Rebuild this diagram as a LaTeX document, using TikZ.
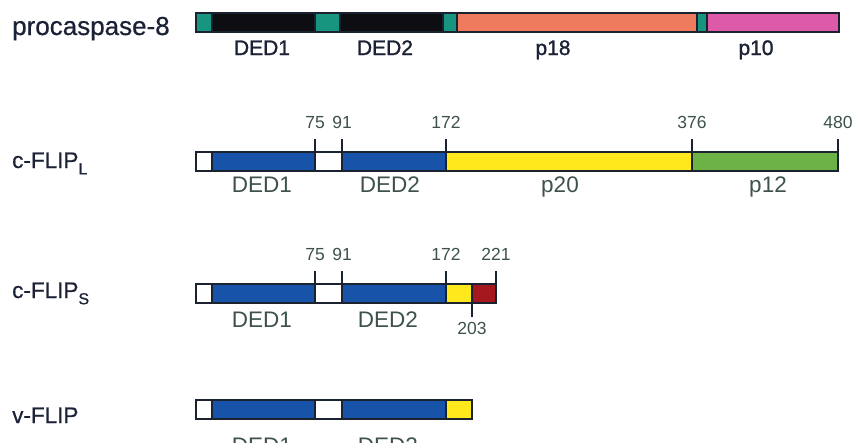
\documentclass[tikz,border=0pt]{standalone}
\usepackage{fontspec}
\setmainfont{Liberation Sans}
\newfontfamily\namefont[FakeBold=0.6]{Liberation Sans}
\newfontfamily\caspfont[FakeBold=1.3]{Liberation Sans}
\definecolor{edge}{HTML}{1A2230}
\definecolor{navy}{HTML}{1C2236}
\definecolor{greytxt}{HTML}{3E524C}
\definecolor{tealc}{HTML}{17957F}
\definecolor{blackc}{HTML}{0D0D12}
\definecolor{orangec}{HTML}{EE7B5E}
\definecolor{pinkc}{HTML}{DD5AA8}
\definecolor{bluec}{HTML}{1753A8}
\definecolor{yellowc}{HTML}{FFE81C}
\definecolor{greenc}{HTML}{6DB245}
\definecolor{redc}{HTML}{A5181E}
\newcommand\protseg[5]{\filldraw[fill=#1, segline] (#2,#3) rectangle (#4,#5);}
\begin{document}
\begin{tikzpicture}[x=1pt,y=-1pt,
  segline/.style={draw=edge, line width=1.3pt},
  tickline/.style={draw=edge, line width=1.3pt},
  rowname/.style={anchor=base west, inner sep=0pt, text=navy, font=\namefont\fontsize{22.5}{22.5}\selectfont},
  casplabel/.style={anchor=base, inner sep=0pt, text=navy, font=\caspfont\fontsize{21}{21}\selectfont},
  domlabel/.style={anchor=base, inner sep=0pt, text=greytxt, font=\fontsize{22.5}{22.5}\selectfont},
  poslabel/.style={anchor=base, inner sep=0pt, text=greytxt, font=\fontsize{17.5}{17.5}\selectfont}]
\clip (0,0) rectangle (853,442);
\fill[white] (0,0) rectangle (853,442);

% procaspase-8
\node[rowname, font=\namefont\fontsize{26}{26}\selectfont] (n8) at (12,35) {procaspase-8};
\protseg{tealc}{196}{13}{212}{32}
\protseg{blackc}{212}{13}{315}{32}
\protseg{tealc}{315}{13}{340}{32}
\protseg{blackc}{340}{13}{443}{32}
\protseg{tealc}{443}{13}{457}{32}
\protseg{orangec}{457}{13}{697}{32}
\protseg{tealc}{697}{13}{707}{32}
\protseg{pinkc}{707}{13}{839}{32}
\node[casplabel] (c1) at (262,55) {DED1};
\node[casplabel] (c2) at (385,55) {DED2};
\node[casplabel] (c3) at (553,55) {p18};
\node[casplabel] (c4) at (756,55) {p10};

% c-FLIP long
\node[rowname] (nL) at (12,168) {c-FLIP\raisebox{-0.28em}{\fontsize{16}{16}\selectfont L}};
\protseg{white}{196}{152}{212}{171}
\protseg{bluec}{212}{152}{315}{171}
\protseg{white}{315}{152}{342}{171}
\protseg{bluec}{342}{152}{446}{171}
\protseg{yellowc}{446}{152}{692}{171}
\protseg{greenc}{692}{152}{838}{171}
\foreach \px/\lab in {315/75, 342/91, 446/172, 692/376, 838/480}{
  \draw[tickline] (\px,139) -- (\px,152);
  \node[poslabel] (pL\lab) at (\px,128) {\lab};
}
\node[domlabel] (l1) at (262,192) {DED1};
\node[domlabel] (l2) at (390,192) {DED2};
\node[domlabel] (l3) at (560,192) {p20};
\node[domlabel] (l4) at (768,192) {p12};

% c-FLIP short
\node[rowname] (nS) at (12,298) {c-FLIP\raisebox{-0.28em}{\fontsize{16}{16}\selectfont S}};
\protseg{white}{196}{284}{212}{303}
\protseg{bluec}{212}{284}{315}{303}
\protseg{white}{315}{284}{342}{303}
\protseg{bluec}{342}{284}{446}{303}
\protseg{yellowc}{446}{284}{472}{303}
\protseg{redc}{472}{284}{496}{303}
\foreach \px/\lab in {315/75, 342/91, 446/172, 496/221}{
  \draw[tickline] (\px,271) -- (\px,284);
  \node[poslabel] (pS\lab) at (\px,260) {\lab};
}
\draw[tickline] (472,303) -- (472,317);
\node[poslabel] (pS203) at (472,334) {203};
\node[domlabel] (s1) at (262,327) {DED1};
\node[domlabel] (s2) at (388,327) {DED2};

% v-FLIP
\node[rowname] (nV) at (12,423) {v-FLIP};
\protseg{white}{196}{400}{212}{419}
\protseg{bluec}{212}{400}{315}{419}
\protseg{white}{315}{400}{342}{419}
\protseg{bluec}{342}{400}{446}{419}
\protseg{yellowc}{446}{400}{472}{419}
\node[domlabel] (v1) at (262,453) {DED1};
\node[domlabel] (v2) at (388,453) {DED2};
\end{tikzpicture}
\end{document}
